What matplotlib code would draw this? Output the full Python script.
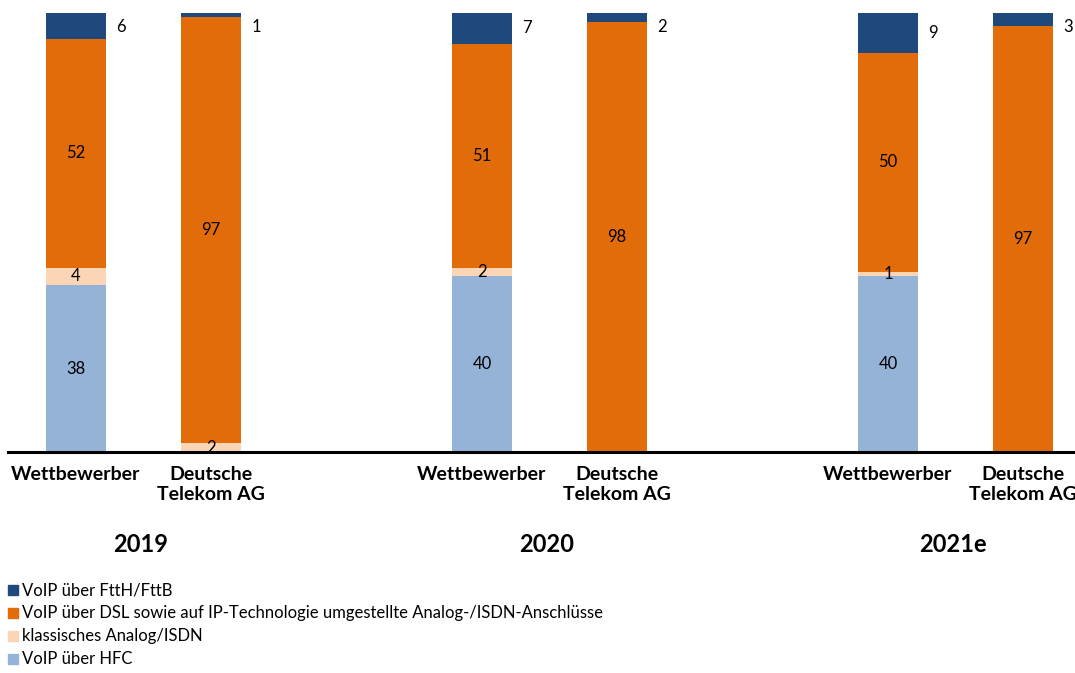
import matplotlib.pyplot as plt
from matplotlib.patches import Rectangle

plt.rcParams['font.family'] = ['Lato', 'DejaVu Sans']

# data (percent shares)
years = ['2019', '2020', '2021e']
providers = ['Wettbewerber', 'Deutsche\nTelekom AG']
series = ['VoIP über HFC', 'klassisches Analog/ISDN',
          'VoIP über DSL sowie auf IP-Technologie umgestellte Analog-/ISDN-Anschlüsse',
          'VoIP über FttH/FttB']
# order of bars: 2019 W, 2019 DT, 2020 W, 2020 DT, 2021e W, 2021e DT
hfc = [38, 0, 40, 0, 40, 0]
analog = [4, 2, 2, 0, 1, 0]
dsl = [52, 97, 51, 98, 50, 97]
ftth = [6, 1, 7, 2, 9, 3]
colors = ['#95b3d7', '#fbd5b5', '#e36c0a', '#1f497d']

W, H = 1075, 673
fig = plt.figure(figsize=(W / 100, H / 100), dpi=100)
ax = fig.add_axes([8 / W, 1 - 452 / H, 1 - 8 / W, 439 / H])

# bar positions in pixel-like units
pos = []
for g in range(len(years)):
    for k in range(len(providers)):
        pos.append(76 + 406 * g + 135 * k)

bottom = [0] * 6
for vals, col in zip([hfc, analog, dsl, ftth], colors):
    ax.bar(pos, vals, width=60, bottom=bottom, color=col, linewidth=0)
    for i, v in enumerate(vals):
        if v > 0:
            if col == colors[3]:
                ax.text(pos[i] + 45, min(bottom[i] + v / 2, 96.8), str(v),
                        ha='center', va='center', fontsize=12)
            else:
                ax.text(pos[i], bottom[i] + v / 2, str(v),
                        ha='center', va='center', fontsize=12)
    bottom = [b + v for b, v in zip(bottom, vals)]

ax.set_xlim(8, W)
ax.set_ylim(0, 100)
ax.axhline(0, color='black', linewidth=2.2, clip_on=False)
for s in ax.spines.values():
    s.set_visible(False)
ax.set_xticks([])
ax.set_yticks([])

tr = ax.get_xaxis_transform()
for i, p in enumerate(pos):
    ax.text(p, -14 / 439, providers[i % 2], transform=tr, ha='center', va='top',
            fontsize=14, fontweight='bold', linespacing=1.25)
for g, y in enumerate(years):
    ax.text((pos[2 * g] + pos[2 * g + 1]) / 2 - 3, -93 / 439, y, transform=tr,
            ha='center', va='center', fontsize=17, fontweight='bold')

# legend
for j, (lab, col) in enumerate(zip(series[::-1], colors[::-1])):
    yc = 590 + 23 * j
    fig.patches.append(Rectangle((8 / W, 1 - (yc + 5) / H), 10 / W, 10 / H,
                                 color=col, transform=fig.transFigure))
    fig.text(22 / W, 1 - yc / H, lab, ha='left', va='center', fontsize=12)

fig.savefig('out.png', dpi=100)
